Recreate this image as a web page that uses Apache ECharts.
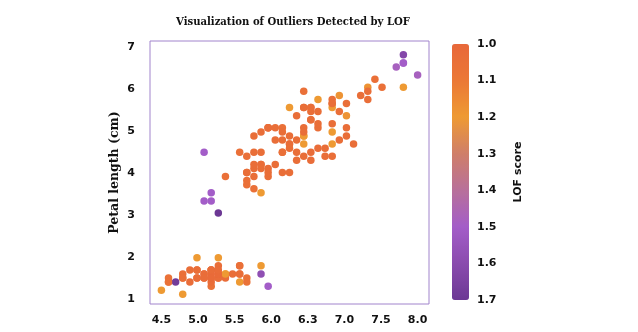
<!DOCTYPE html>
<html><head><meta charset="utf-8">
<script src="https://cdn.jsdelivr.net/npm/echarts@6/dist/echarts.min.js"></script>
<style>html,body{margin:0;padding:0;background:#fff}#c{width:638px;height:332px}</style>
</head><body><div id="c"></div>
<script>
const sepalLength = [
5.1,4.9,4.7,4.6,5.0,5.4,4.6,5.0,4.4,4.9,5.4,4.8,4.8,4.3,5.8,5.7,5.4,5.1,5.7,5.1,
5.4,5.1,4.6,5.1,4.8,5.0,5.0,5.2,5.2,4.7,4.8,5.4,5.2,5.5,4.9,5.0,5.5,4.9,4.4,5.1,
5.0,4.5,4.4,5.0,5.1,4.8,5.1,4.6,5.3,5.0,
7.0,6.4,6.9,5.5,6.5,5.7,6.3,4.9,6.6,5.2,5.0,5.9,6.0,6.1,5.6,6.7,5.6,5.8,6.2,5.6,
5.9,6.1,6.3,6.1,6.4,6.6,6.8,6.7,6.0,5.7,5.5,5.5,5.8,6.0,5.4,6.0,6.7,6.3,5.6,5.5,
5.5,6.1,5.8,5.0,5.6,5.7,5.7,6.2,5.1,5.7,
6.3,5.8,7.1,6.3,6.5,7.6,4.9,7.3,6.7,7.2,6.5,6.4,6.8,5.7,5.8,6.4,6.5,7.7,7.7,6.0,
6.9,5.6,7.7,6.3,6.7,7.2,6.2,6.1,6.4,7.2,7.4,7.9,6.4,6.3,6.1,7.7,6.3,6.4,6.0,6.9,
6.7,6.9,5.8,6.8,6.7,6.7,6.3,6.5,6.2,5.9];
const petalLength = [
1.4,1.4,1.3,1.5,1.4,1.7,1.4,1.5,1.4,1.5,1.5,1.6,1.4,1.1,1.2,1.5,1.3,1.4,1.7,1.5,
1.7,1.5,1.0,1.7,1.9,1.6,1.6,1.5,1.4,1.6,1.6,1.5,1.5,1.4,1.5,1.2,1.3,1.4,1.3,1.5,
1.3,1.3,1.3,1.6,1.9,1.4,1.6,1.4,1.5,1.4,
4.7,4.5,4.9,4.0,4.6,4.5,4.7,3.3,4.6,3.9,3.5,4.2,4.0,4.7,3.6,4.4,4.5,4.1,4.5,3.9,
4.8,4.0,4.9,4.7,4.3,4.4,4.8,5.0,4.5,3.5,3.8,3.7,3.9,5.1,4.5,4.5,4.7,4.4,4.1,4.0,
4.4,4.6,4.0,3.3,4.2,4.2,4.2,4.3,3.0,4.1,
6.0,5.1,5.9,5.6,5.8,6.6,4.5,6.3,5.8,6.1,5.1,5.3,5.5,5.0,5.1,5.3,5.5,6.7,6.9,5.0,
5.7,4.9,6.7,4.9,5.7,6.0,4.8,4.9,5.6,5.8,6.1,6.4,5.6,5.1,5.6,6.1,5.6,5.5,4.8,5.4,
5.6,5.1,5.1,5.9,5.7,5.2,5.0,5.2,5.4,5.1];
const lofScore = [
1.03,1.03,1.03,1.05,1.02,1.05,1.05,1.02,1.06,1.03,1.04,1.04,1.03,1.20,1.50,1.58,1.20,1.03,1.20,1.02,
1.05,1.02,1.20,1.04,1.20,1.03,1.03,1.20,1.03,1.04,1.04,1.04,1.20,1.06,1.03,1.06,1.06,1.03,1.06,1.02,
1.03,1.68,1.06,1.03,1.20,1.03,1.03,1.05,1.04,1.02,
1.04,1.03,1.04,1.05,1.03,1.04,1.20,1.50,1.04,1.05,1.50,1.04,1.04,1.03,1.05,1.04,1.04,1.03,1.04,1.04,
1.04,1.04,1.20,1.03,1.03,1.04,1.04,1.20,1.03,1.20,1.05,1.05,1.04,1.05,1.05,1.05,1.20,1.04,1.04,1.04,
1.05,1.04,1.04,1.50,1.04,1.03,1.03,1.04,1.70,1.04,
1.05,1.03,1.04,1.04,1.20,1.48,1.50,1.05,1.04,1.18,1.04,1.04,1.04,1.04,1.03,1.04,1.04,1.50,1.62,1.04,
1.04,1.04,1.50,1.20,1.04,1.04,1.04,1.04,1.04,1.04,1.05,1.48,1.04,1.04,1.20,1.20,1.04,1.04,1.04,1.18,
1.20,1.04,1.03,1.18,1.04,1.04,1.04,1.04,1.04,1.04];
const xTickValues = [4.3, 4.8143, 5.3286, 5.8429, 6.3571, 6.8714, 7.3857, 7.9];
const xTickLabels = ['4.5','5.0','5.5','6.0','6.3','7.0','7.5','8.0'];
const yTickValues = [0.87, 1.905, 2.94, 3.975, 5.01, 6.045, 7.08];
const yTickLabels = ['1','2','3','4','5','6','7'];
const lofColors = ['#E8683A','#EB7836','#EE9A33','#CF7E69','#B8709A','#A35DC8','#8A4BAE','#6C3894'];

const points = sepalLength.map((x, i) => [x, petalLength[i], lofScore[i]]);
const lab = (vals, labels) => v => {
  let best = 0;
  vals.forEach((t, i) => { if (Math.abs(t - v) < Math.abs(vals[best] - v)) best = i; });
  return labels[best];
};
const tickFont = {fontFamily: 'DejaVu Sans', fontWeight: 'bold', fontSize: 11, color: '#111'};

const chart = echarts.init(document.getElementById('c'));
chart.setOption({
  backgroundColor: '#fff',
  animation: false,
  title: {
    text: 'Visualization of Outliers Detected by LOF',
    left: 288, top: 12, textAlign: 'center',
    textStyle: {fontFamily: "'DejaVu Serif Condensed', 'DejaVu Serif'", fontWeight: 'bold', fontSize: 11.2, color: '#111'}
  },
  grid: [
    {left: 150, top: 41, width: 279, height: 263, show: true, borderColor: '#a184cc', borderWidth: 1, backgroundColor: 'transparent'},
    {left: 452, top: 44, width: 17, height: 256}
  ],
  xAxis: [
    {type: 'value', gridIndex: 0, min: 4.14, max: 8.06,
     axisLine: {show: false}, axisTick: {show: false}, splitLine: {show: false},
     axisLabel: Object.assign({margin: 11, customValues: xTickValues, formatter: lab(xTickValues, xTickLabels)}, tickFont)},
    {type: 'value', gridIndex: 1, show: false}
  ],
  yAxis: [
    {type: 'value', gridIndex: 0, min: 0.76, max: 7.24,
     name: 'Petal length (cm)', nameLocation: 'middle', nameGap: 29,
     nameTextStyle: {fontFamily: 'DejaVu Serif', fontWeight: 'bold', fontSize: 12.5, color: '#111'},
     axisLine: {show: false}, axisTick: {show: false}, splitLine: {show: false},
     axisLabel: Object.assign({margin: 15, customValues: yTickValues, formatter: lab(yTickValues, yTickLabels)}, tickFont)},
    {type: 'value', gridIndex: 1, min: 1.0, max: 1.7, interval: 0.1, inverse: true, position: 'right',
     name: 'LOF score', nameLocation: 'middle', nameGap: 44, nameRotate: 90,
     nameTextStyle: {fontFamily: 'DejaVu Sans', fontWeight: 'bold', fontSize: 11, color: '#111'},
     axisLine: {show: false}, axisTick: {show: false}, splitLine: {show: false},
     axisLabel: Object.assign({margin: 8, formatter: v => v.toFixed(1)}, tickFont)}
  ],
  visualMap: {
    type: 'continuous', min: 1.0, max: 1.7, dimension: 2, seriesIndex: 0,
    inverse: true, calculable: false, left: 452, top: 44, itemWidth: 17, itemHeight: 256,
    padding: 0, text: ['', ''], showLabel: false,
    inRange: {color: lofColors}
  },
  series: [{
    type: 'scatter', xAxisIndex: 0, yAxisIndex: 0, data: points,
    symbolSize: 7.5, itemStyle: {opacity: 1}
  }]
});
</script>
</body></html>
